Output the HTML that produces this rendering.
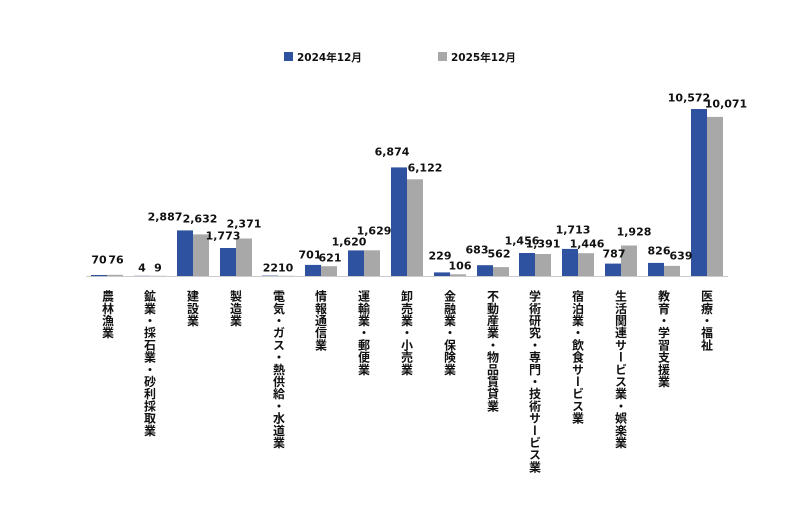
<!DOCTYPE html>
<html><head><meta charset="utf-8"><style>
body{margin:0;background:#fff;width:800px;height:511px;overflow:hidden;position:relative;font-family:"Liberation Sans","Noto Sans CJK JP",sans-serif}
.c{position:absolute;top:290px;writing-mode:vertical-rl;font-size:12px;font-weight:bold;letter-spacing:0.2px;color:#111;transform:translateX(-50%);font-family:"Noto Sans CJK JP",sans-serif;line-height:13px;white-space:nowrap}
</style></head><body>
<svg width="800" height="511" style="position:absolute;left:0;top:0" font-family="DejaVu Sans, sans-serif" font-weight="bold" font-size="11" fill="#111">
<rect x="284" y="52" width="9" height="9" fill="#2e52a0"/><text x="297" y="61" font-size="10.5">2024年12月</text>
<rect x="438" y="52" width="9" height="9" fill="#a8a8a8"/><text x="451" y="61" font-size="10.5">2025年12月</text>
<line x1="86" y1="276.5" x2="728" y2="276.5" stroke="#ccc"/>
<g fill="#2e52a0">
<rect x="91" y="275" width="16" height="1.1"/>
<rect x="134" y="275.8" width="16" height="0.2"/>
<rect x="177" y="230.4" width="16" height="45.6"/>
<rect x="220" y="248" width="16" height="28"/>
<rect x="262" y="275.6" width="16" height="0.4"/>
<rect x="305" y="264.9" width="16" height="11.1"/>
<rect x="348" y="250.4" width="16" height="25.6"/>
<rect x="391" y="167.4" width="16" height="108.6"/>
<rect x="434" y="272.4" width="16" height="3.6"/>
<rect x="477" y="265.2" width="16" height="10.8"/>
<rect x="519" y="253" width="16" height="23"/>
<rect x="562" y="248.9" width="16" height="27.1"/>
<rect x="605" y="263.6" width="16" height="12.4"/>
<rect x="648" y="262.9" width="16" height="13.1"/>
<rect x="691" y="109" width="16" height="167"/>
</g>
<g fill="#a8a8a8">
<rect x="107" y="274.8" width="16" height="1.2"/>
<rect x="150" y="275.8" width="16" height="0.2"/>
<rect x="193" y="234.4" width="16" height="41.6"/>
<rect x="236" y="238.5" width="16" height="37.5"/>
<rect x="278" y="275.8" width="16" height="0.2"/>
<rect x="321" y="266.2" width="16" height="9.8"/>
<rect x="364" y="250.3" width="16" height="25.7"/>
<rect x="407" y="179.3" width="16" height="96.7"/>
<rect x="450" y="274.3" width="16" height="1.7"/>
<rect x="493" y="267.1" width="16" height="8.9"/>
<rect x="535" y="254" width="16" height="22"/>
<rect x="578" y="253.2" width="16" height="22.8"/>
<rect x="621" y="245.5" width="16" height="30.5"/>
<rect x="664" y="265.9" width="16" height="10.1"/>
<rect x="707" y="116.9" width="16" height="159.1"/>
</g>
<g text-anchor="middle" dominant-baseline="central">
<text x="99" y="260">70</text><text x="116" y="260">76</text>
<text x="142" y="268">4</text><text x="158" y="268">9</text>
<text x="165" y="217">2,887</text><text x="200" y="219">2,632</text>
<text x="223" y="236">1,773</text><text x="244" y="224">2,371</text>
<text x="278" y="268">2210</text>
<text x="310" y="255">701</text><text x="330" y="258">621</text>
<text x="349" y="242">1,620</text><text x="374" y="231">1,629</text>
<text x="392" y="152">6,874</text><text x="425" y="168">6,122</text>
<text x="440" y="256">229</text><text x="460" y="266">106</text>
<text x="477" y="250">683</text><text x="499" y="254">562</text>
<text x="522" y="241">1,456</text><text x="543" y="244">1,391</text>
<text x="573" y="230">1,713</text><text x="587" y="244">1,446</text>
<text x="614" y="254">787</text><text x="634" y="232">1,928</text>
<text x="659" y="251">826</text><text x="681" y="256">639</text>
<text x="689" y="98">10,572</text><text x="726" y="104">10,071</text>
</g>
</svg>
<div class="c" style="left:108px">農林漁業</div>
<div class="c" style="left:150px">鉱業・採石業・砂利採取業</div>
<div class="c" style="left:193px">建設業</div>
<div class="c" style="left:236px">製造業</div>
<div class="c" style="left:279px">電気・ガス・熱供給・水道業</div>
<div class="c" style="left:321px">情報通信業</div>
<div class="c" style="left:364px">運輸業・郵便業</div>
<div class="c" style="left:407px">卸売業・小売業</div>
<div class="c" style="left:450px">金融業・保険業</div>
<div class="c" style="left:493px">不動産業・物品賃貸業</div>
<div class="c" style="left:535px">学術研究・専門・技術サービス業</div>
<div class="c" style="left:578px">宿泊業・飲食サービス業</div>
<div class="c" style="left:621px">生活関連サービス業・娯楽業</div>
<div class="c" style="left:664px">教育・学習支援業</div>
<div class="c" style="left:707px">医療・福祉</div>
</body></html>
